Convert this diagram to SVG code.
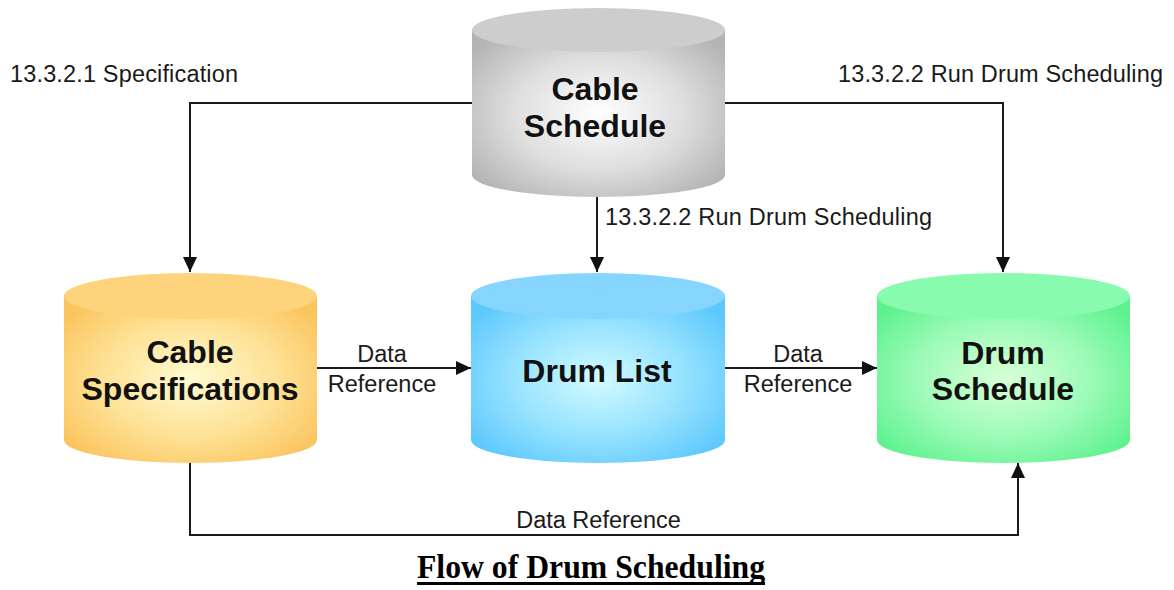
<svg xmlns="http://www.w3.org/2000/svg" width="1174" height="590" viewBox="0 0 1174 590">
  <defs>
    <radialGradient id="gGray" cx="0.5" cy="0.5" r="0.62">
      <stop offset="0" stop-color="#ffffff"/>
      <stop offset="0.55" stop-color="#dedede"/>
      <stop offset="1" stop-color="#b4b4b4"/>
    </radialGradient>
    <radialGradient id="gOrange" cx="0.5" cy="0.5" r="0.62">
      <stop offset="0" stop-color="#fffbd2"/>
      <stop offset="0.55" stop-color="#fee296"/>
      <stop offset="1" stop-color="#fbc45e"/>
    </radialGradient>
    <radialGradient id="gBlue" cx="0.5" cy="0.5" r="0.62">
      <stop offset="0" stop-color="#d2fbff"/>
      <stop offset="0.55" stop-color="#96e2ff"/>
      <stop offset="1" stop-color="#5cc8fd"/>
    </radialGradient>
    <radialGradient id="gGreen" cx="0.5" cy="0.5" r="0.62">
      <stop offset="0" stop-color="#d8ffd6"/>
      <stop offset="0.55" stop-color="#9dfbb8"/>
      <stop offset="1" stop-color="#5ef28e"/>
    </radialGradient>
    <marker id="arrow" markerWidth="16" markerHeight="14" refX="15" refY="7" orient="auto" markerUnits="userSpaceOnUse">
      <path d="M0,0 L15,7 L0,14 Z" fill="#111"/>
    </marker>
  </defs>
  <style>
    .label { font-family: "Liberation Sans", Arial, sans-serif; font-size: 23.5px; fill: #1a1a1a; }
    .node-text { font-family: "Liberation Sans", Arial, sans-serif; font-size: 32px; font-weight: bold; fill: #111; text-anchor: middle; }
    .title { font-family: "Liberation Serif", "Times New Roman", serif; font-size: 34px; font-weight: bold; fill: #000; text-anchor: middle; }
    .wire { fill: none; stroke: #1a1a1a; stroke-width: 2; }
    .mid { text-anchor: middle; }
  </style>

  <rect width="1174" height="590" fill="#ffffff"/>

  <!-- connectors -->
  <g id="connectors">
    <path class="wire" d="M472,103 H190 V272" marker-end="url(#arrow)"/>
    <path class="wire" d="M725,103 H1003 V272" marker-end="url(#arrow)"/>
    <path class="wire" d="M597,197 V272" marker-end="url(#arrow)"/>
    <path class="wire" d="M317,368 H471" marker-end="url(#arrow)"/>
    <path class="wire" d="M725,368 H877" marker-end="url(#arrow)"/>
    <path class="wire" d="M190,463 V535 H1018 V463" marker-end="url(#arrow)"/>
    <text class="label" x="10" y="82" textLength="228">13.3.2.1 Specification</text>
    <text class="label" x="838" y="82" textLength="325">13.3.2.2 Run Drum Scheduling</text>
    <text class="label" x="605" y="225" textLength="327">13.3.2.2 Run Drum Scheduling</text>
    <text class="label mid" x="382" y="362">Data</text>
    <text class="label mid" x="382" y="392">Reference</text>
    <text class="label mid" x="798" y="362">Data</text>
    <text class="label mid" x="798" y="392">Reference</text>
    <text class="label mid" x="598.5" y="528">Data Reference</text>
  </g>

  <!-- Cable Schedule -->
  <g id="cable-schedule">
    <path d="M472,30 V175 A126.5,22 0 0 0 725,175 V30 Z" fill="url(#gGray)"/>
    <ellipse cx="598.5" cy="30" rx="126.5" ry="22" fill="#cdcdcd"/>
    <text class="node-text" x="595" y="100">Cable</text>
    <text class="node-text" x="595" y="137">Schedule</text>
  </g>

  <!-- Cable Specifications -->
  <g id="cable-specifications">
    <path d="M64,296 V440 A126.5,23 0 0 0 317,440 V296 Z" fill="url(#gOrange)"/>
    <ellipse cx="190.5" cy="296" rx="126.5" ry="23" fill="#fdd37c"/>
    <text class="node-text" x="190" y="363">Cable</text>
    <text class="node-text" x="190" y="400">Specifications</text>
  </g>

  <!-- Drum List -->
  <g id="drum-list">
    <path d="M471,296 V440 A127,23 0 0 0 725,440 V296 Z" fill="url(#gBlue)"/>
    <ellipse cx="598" cy="296" rx="127" ry="23" fill="#86d5ff"/>
    <text class="node-text" x="597" y="382">Drum List</text>
  </g>

  <!-- Drum Schedule -->
  <g id="drum-schedule">
    <path d="M877,296 V440 A126.5,23 0 0 0 1130,440 V296 Z" fill="url(#gGreen)"/>
    <ellipse cx="1003.5" cy="296" rx="126.5" ry="23" fill="#88fbaf"/>
    <text class="node-text" x="1003" y="364">Drum</text>
    <text class="node-text" x="1003" y="400">Schedule</text>
  </g>

  <!-- caption -->
  <g id="caption">
    <text class="title" x="591" y="578" textLength="348" lengthAdjust="spacingAndGlyphs">Flow of Drum Scheduling</text>
    <rect x="417" y="582" width="348" height="3" fill="#000"/>
  </g>
</svg>
